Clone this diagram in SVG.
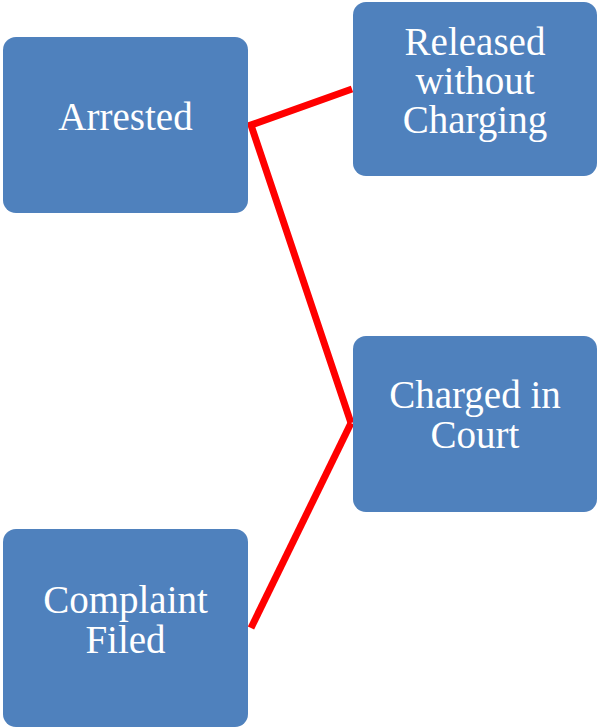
<svg xmlns="http://www.w3.org/2000/svg" width="598" height="727" viewBox="0 0 598 727">
<style>
.box{fill:#4F81BD;}
.lbl{fill:#FFFFFF;font-family:"Liberation Serif","DejaVu Serif",serif;font-size:39px;text-anchor:middle;}
.conn{stroke:#FF0000;stroke-width:7;fill:none;stroke-linejoin:miter;}
</style>
<rect width="598" height="727" fill="#FFFFFF"/>
<g id="connectors">
<polyline class="conn" points="352,89 251,125 351,423"/>
<polyline class="conn" points="351,423 251,628"/>
</g>
<g id="arrested">
<rect class="box" x="3" y="37" width="245" height="176" rx="13"/>
<text class="lbl" x="125.5" y="130">Arrested</text>
</g>
<g id="released">
<rect class="box" x="353" y="2" width="244" height="174" rx="13"/>
<text class="lbl" x="475" y="55">Released</text>
<text class="lbl" x="475" y="94">without</text>
<text class="lbl" x="475" y="133">Charging</text>
</g>
<g id="charged">
<rect class="box" x="353" y="336" width="244" height="176" rx="13"/>
<text class="lbl" x="475" y="408">Charged in</text>
<text class="lbl" x="475" y="448">Court</text>
</g>
<g id="complaint">
<rect class="box" x="3" y="529" width="245" height="198" rx="13"/>
<text class="lbl" x="125.5" y="613">Complaint</text>
<text class="lbl" x="125.5" y="653">Filed</text>
</g>
</svg>
